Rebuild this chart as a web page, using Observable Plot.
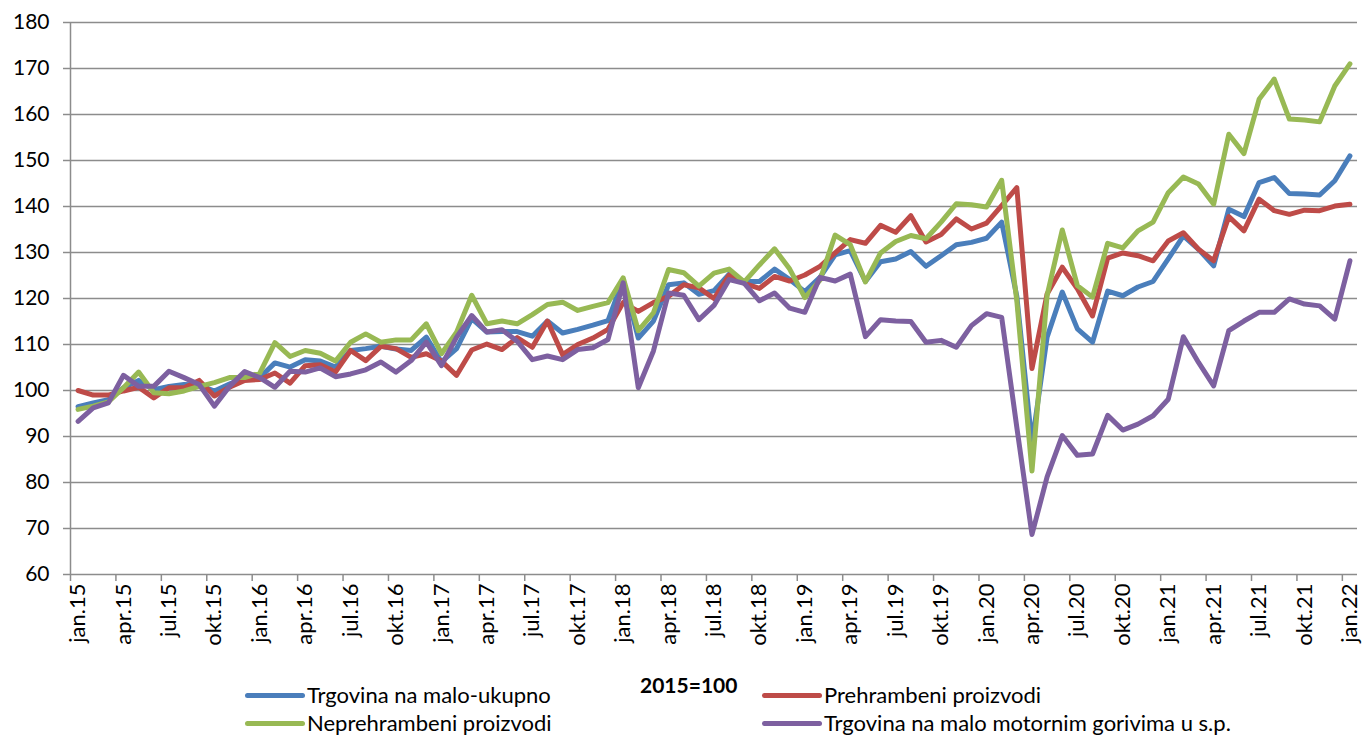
<!DOCTYPE html>
<html><head><meta charset="utf-8">
<script src="https://cdn.jsdelivr.net/npm/d3@7"></script>
<script src="https://cdn.jsdelivr.net/npm/@observablehq/plot@0.6"></script>
<style>
body{margin:0;background:#fff;font-family:Lato,sans-serif;}
#wrap{position:relative;width:1363px;height:736px;overflow:hidden;background:#fff;}
.leg{position:absolute;font-size:22px;color:#000;white-space:nowrap;line-height:1;}
.sw{position:absolute;height:5px;border-radius:3px;width:60px;}
</style></head><body><div id="wrap"><div id="chart"></div></div>
<script>
const monthNames = ["jan","feb","mar","apr","maj","jun","jul","avg","sep","okt","nov","dec"];
const yearNames = ["15","16","17","18","19","20","21","22"];
const categories = [];
for (const yr of yearNames) for (const m of monthNames) categories.push(m + "." + yr);
categories.length = 85; // jan.15 .. jan.22

const ukupno = [96.5,97.3,98.0,100.6,102.2,100.2,100.9,101.3,101.2,99.9,101.4,102.8,102.8,106.0,105.1,
106.7,106.4,105.1,108.7,109.1,109.6,109.0,108.7,111.6,106.2,109.1,115.6,112.7,112.8,
112.8,111.8,115.1,112.5,113.3,114.2,115.2,124.1,111.4,115.1,123.0,123.4,120.9,121.7,
125.3,123.7,123.7,126.4,124.1,121.5,124.6,129.5,130.4,123.7,128.0,128.6,130.2,127.0,
129.3,131.7,132.2,133.1,136.6,120.5,88.5,111.6,121.4,113.4,110.5,121.6,120.6,122.5,
123.7,128.6,133.6,130.7,127.1,139.4,137.8,145.2,146.3,142.8,142.7,142.5,145.6,151.0];

const prehrambeni = [100,99,99,99.9,100.7,98.4,100.6,100.6,102.2,98.8,100.7,102.2,102.4,103.8,101.6,
105.4,105.6,104,108.7,106.5,109.6,109.1,107.2,108,106.4,103.3,108.8,110.1,108.9,
111.5,109.4,115.1,107.8,110,111.4,113.3,119.1,117.2,119.1,120.5,123,122.3,120,
125.1,123.3,122.2,124.8,123.8,125.1,127,129.9,132.8,132,135.9,134.4,138,132.3,
133.9,137.3,135.1,136.4,140.2,144.1,104.8,121,126.8,122.1,116.2,128.8,129.9,129.3,
128.2,132.5,134.3,130.7,128.2,137.8,134.7,141.6,139.1,138.3,139.2,139.1,140.1,140.5];

const neprehrambeni = [95.9,96.6,97.5,100.6,104,99.5,99.3,99.9,100.9,101.7,102.8,102.8,103.8,110.4,107.4,
108.7,108.1,106.4,110.5,112.3,110.5,111,111,114.5,108,112.7,120.7,114.5,115.1,
114.5,116.5,118.7,119.2,117.4,118.3,119.1,124.5,113,116.9,126.3,125.6,122.7,125.5,
126.4,123.6,127.3,130.8,126.4,120.2,124,133.8,131.7,123.6,129.9,132.4,133.7,133,
136.6,140.6,140.4,139.9,145.7,119.5,82.5,120.7,134.9,122.8,120.3,132,131,134.7,
136.6,143,146.4,144.9,140.5,155.7,151.5,163.3,167.7,159,158.8,158.4,166.2,171];

const gorivo = [93.3,96.2,97.3,103.3,100.9,100.9,104.2,102.8,101.3,96.6,100.9,104.1,102.8,100.7,104.2,
104,104.9,103,103.6,104.5,106.2,104,106.5,110.5,105.4,111.6,116.3,112.7,113.2,
110.7,106.7,107.5,106.7,108.9,109.3,111.1,123.4,100.6,108.6,121.2,120.7,115.4,118.5,
124.1,123.3,119.5,121.2,117.9,117,124.6,123.8,125.3,111.7,115.4,115.1,115,110.5,
110.9,109.4,114.1,116.7,115.9,92,68.7,81.2,90.2,85.9,86.2,94.6,91.4,92.7,
94.5,98.1,111.7,106.1,101,113,115.1,117,117,119.9,118.8,118.4,115.5,128.2];

const seriesNames = ["Trgovina na malo-ukupno","Prehrambeni proizvodi","Neprehrambeni proizvodi","Trgovina na malo motornim gorivima u s.p."];
const seriesColors = ["#4A7EBB","#BE4B48","#98B954","#7D60A0"];
const yTicks = [60,70,80,90,100,110,120,130,140,150,160,170,180];
const baseNote = "2015=100";

const seriesValues = [ukupno, prehrambeni, neprehrambeni, gorivo];
const table = [];
seriesValues.forEach((vals, s) => vals.forEach((v, i) => table.push({i, value: v, series: seriesNames[s]})));

const labelIdx = d3.range(0, 85, 3);
const tickPos = labelIdx.map(i => i - 0.5);
const grid = "#8c8c8c";

const chart = Plot.plot({
  width: 1363, height: 665,
  marginLeft: 70, marginRight: 6, marginTop: 22, marginBottom: 91,
  x: {type: "linear", domain: [-0.5, 84.5], axis: null, label: null},
  y: {domain: [60, 180], axis: null, label: null},
  color: {domain: seriesNames, range: seriesColors},
  style: {fontFamily: "Lato, sans-serif", fontSize: "21px", color: "#000", background: "#fff"},
  marks: [
    Plot.ruleY(yTicks, {stroke: grid, strokeWidth: 1.5}),
    Plot.ruleX([-0.5], {stroke: grid, strokeWidth: 1.5}),
    Plot.axisY({ticks: yTicks, label: null, tickSize: 7, tickPadding: 14, stroke: grid, strokeWidth: 1.5, fill: "#000", fontSize: 21}),
    Plot.axisX({ticks: tickPos, label: null, tickSize: 7, tickFormat: () => "", stroke: grid, strokeWidth: 1.5}),
    Plot.text(labelIdx, {x: d => d, text: d => categories[d], frameAnchor: "bottom", rotate: -90, textAnchor: "end", lineAnchor: "middle", dy: 9, fill: "#000", fontSize: 22}),
    Plot.line(table, {x: "i", y: "value", z: "series", stroke: "series", strokeWidth: 5, strokeLinejoin: "round", strokeLinecap: "round"})
  ]
});
document.getElementById("chart").appendChild(chart);

const wrap = document.getElementById("wrap");
function addText(txt, left, cy, bold) {
  const d = document.createElement("div");
  d.className = "leg"; d.textContent = txt;
  d.style.left = left + "px"; d.style.top = (cy - 11) + "px";
  if (bold) { d.style.fontWeight = "bold"; d.style.fontSize = "21px"; }
  wrap.appendChild(d);
}
function addSwatch(color, left, cy) {
  const s = document.createElement("div");
  s.className = "sw"; s.style.background = color;
  s.style.left = left + "px"; s.style.top = (cy - 2.5) + "px";
  wrap.appendChild(s);
}
const legPos = [[245, 695], [762, 695], [245, 723], [762, 723]];
seriesNames.forEach((n, k) => {
  addSwatch(seriesColors[k], legPos[k][0], legPos[k][1]);
  addText(n, legPos[k][0] + 62, legPos[k][1], false);
});
addText(baseNote, 640, 685, true);
</script></body></html>
